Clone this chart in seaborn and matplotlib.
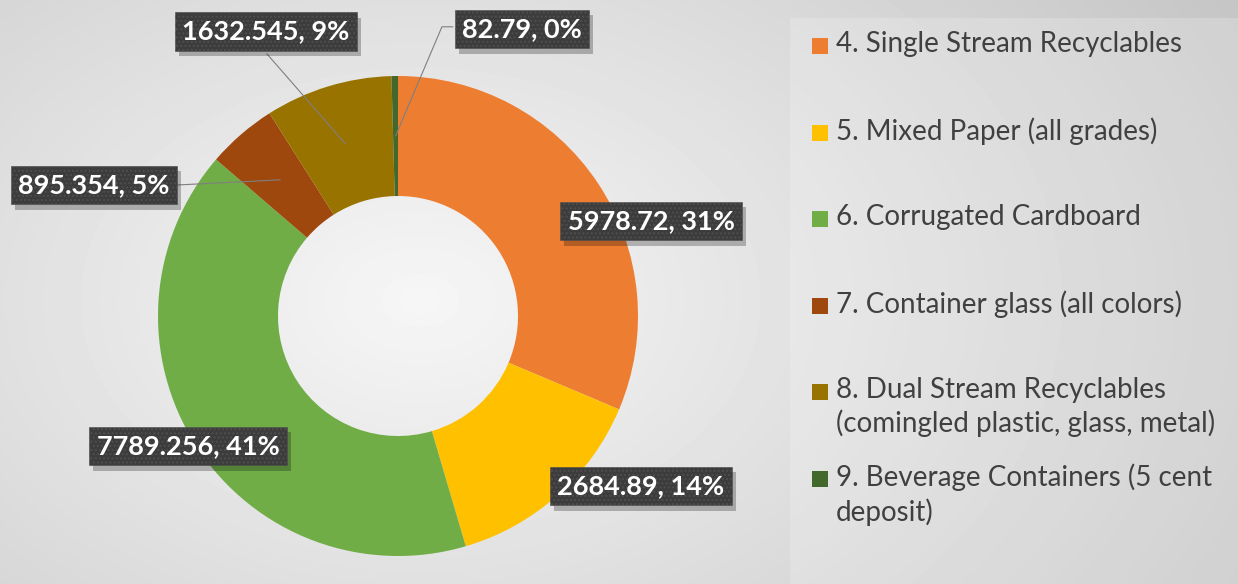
import numpy as np
import matplotlib
matplotlib.use("Agg")
import matplotlib.pyplot as plt
import matplotlib.patheffects as pe
import seaborn as sns
from matplotlib.patches import Rectangle

# data
categories = ["4. Single Stream Recyclables",
              "5. Mixed Paper (all grades)",
              "6. Corrugated Cardboard",
              "7. Container glass (all colors)",
              "8. Dual Stream Recyclables\n(comingled plastic, glass, metal)",
              "9. Beverage Containers (5 cent\ndeposit)"]
tons = [5978.72, 2684.89, 7789.256, 895.354, 1632.545, 82.79]
value_labels = ["5978.72", "2684.89", "7789.256", "895.354", "1632.545", "82.79"]
pct_labels = ["31%", "14%", "41%", "5%", "9%", "0%"]
colors = ["#ED7D31", "#FFC000", "#70AD47", "#9E480E", "#997300", "#43682B"]


class BoxShadow(pe.AbstractPathEffect):
    # plain drop shadow (no hatch) for the label boxes
    def draw_path(self, renderer, gc, tpath, affine, rgbFace):
        gc0 = renderer.new_gc()
        gc0.copy_properties(gc)
        gc0.set_hatch(None)
        gc0.set_linewidth(0)
        gc0.set_alpha(0.25)
        renderer.draw_path(gc0, tpath, affine + self._offset_transform(renderer), (0, 0, 0))
        gc0.restore()


sns.set_theme(style="white")
plt.rcParams['font.family'] = ['Lato', 'DejaVu Sans']
pal = sns.color_palette(colors)

W, H = 1238, 584
fig = plt.figure(figsize=(W / 100, H / 100), dpi=100)

# background axes in pixel coords
bg = fig.add_axes([0, 0, 1, 1])
bg.set_xlim(0, W)
bg.set_ylim(H, 0)
bg.axis('off')
yy, xx = np.mgrid[0:H, 0:W]
d = np.sqrt(((xx - 420) / 820.0) ** 2 + ((yy - 300) / 560.0) ** 2)
shade = 0.965 - 0.17 * np.clip(d, 0, 1.2)
bg.imshow(shade, cmap='gray', vmin=0, vmax=1, extent=(0, W, H, 0), aspect='auto', zorder=0)
bg.add_patch(Rectangle((790, 18), W - 790, H - 18, facecolor='white', alpha=0.2,
                       edgecolor='none', zorder=1))

# legend drawn by hand to match spacing
for i, (lab, c) in enumerate(zip(categories, pal)):
    yc = 46 + 86.5 * i
    bg.add_patch(Rectangle((812, yc - 8), 16, 16, facecolor=c, edgecolor='none', zorder=2))
    bg.text(836, yc - 15, lab, fontsize=20, color='#404040', va='top', ha='left',
            linespacing=1.3, zorder=3)

# donut
ax = fig.add_axes([158 / W, 28 / H, 480 / W, 480 / H])
wedges, _ = ax.pie(tons, colors=pal, startangle=90, counterclock=False, radius=1,
                   wedgeprops=dict(width=0.5, edgecolor='none'))
ax.set_xlim(-1, 1)
ax.set_ylim(-1, 1)
ax.set_aspect('equal')
ax.axis('off')

label_pos = [(1.054, 0.396), (1.0125, -0.708), (-0.875, -0.542),
             (-1.267, 0.546), (-0.55, 1.185), (0.517, 1.196)]
# where leader lines leave the label box (None = no leader)
leader_from = [None, None, None, [(-0.917, 0.546)], [(-0.546, 1.092)],
               [(0.229, 1.205), (0.183, 1.205)]]

for i, w in enumerate(wedges):
    mid = np.deg2rad((w.theta1 + w.theta2) / 2)
    anchor = (0.75 * np.cos(mid), 0.75 * np.sin(mid))
    if leader_from[i]:
        pts = leader_from[i] + [anchor]
        ax.plot([p[0] for p in pts], [p[1] for p in pts], color='#7F7F7F', lw=0.8,
                zorder=3, clip_on=False)
    x, y = label_pos[i]
    txt = f"{value_labels[i]}, {pct_labels[i]}"
    t = ax.text(x, y, txt, ha='center', va='center', fontsize=19.5, fontweight='bold',
                color='white', zorder=5, clip_on=False,
                bbox=dict(boxstyle='square,pad=0.27', facecolor='#3C3C3C', edgecolor='#4E4E4E',
                          linewidth=0.4, hatch='....'))
    t.get_bbox_patch().set_path_effects([BoxShadow(offset=(3, -4)), pe.Normal()])

fig.savefig('out.png', dpi=100)
